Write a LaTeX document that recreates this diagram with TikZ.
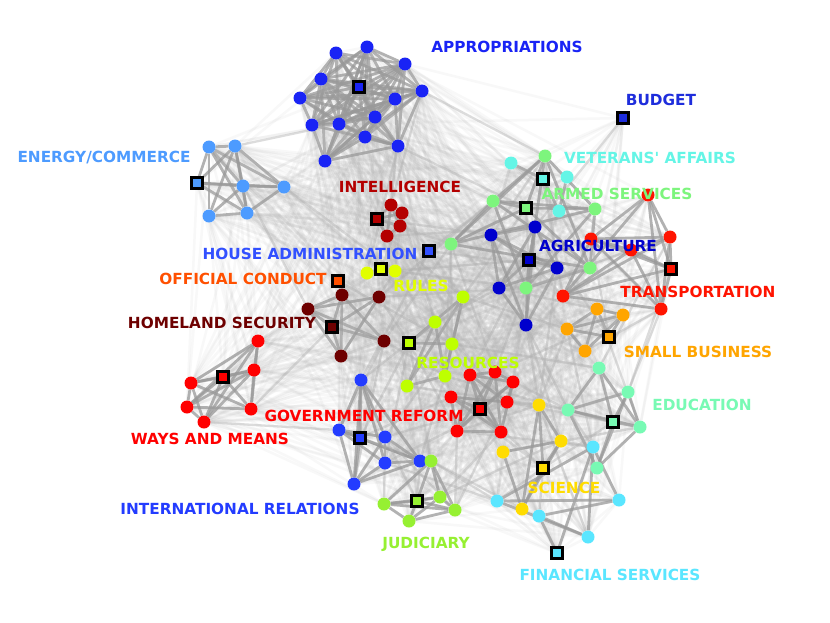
\documentclass[tikz,border=0pt]{standalone}
\usepackage{fontspec}
\newfontfamily\labfont{DejaVu Sans}
\definecolor{cl1}{RGB}{25,35,245}
\definecolor{cl2}{RGB}{30,45,220}
\definecolor{cl3}{RGB}{77,155,255}
\definecolor{cl4}{RGB}{180,0,0}
\definecolor{cl5}{RGB}{50,80,255}
\definecolor{cl6}{RGB}{225,255,0}
\definecolor{cl7}{RGB}{255,80,0}
\definecolor{cl8}{RGB}{110,0,0}
\definecolor{cl9}{RGB}{190,255,0}
\definecolor{cl10}{RGB}{100,245,230}
\definecolor{cl11}{RGB}{125,245,125}
\definecolor{cl12}{RGB}{0,0,205}
\definecolor{cl13}{RGB}{255,20,0}
\definecolor{cl14}{RGB}{255,165,0}
\definecolor{cl15}{RGB}{120,250,180}
\definecolor{cl16}{RGB}{90,230,255}
\definecolor{cl17}{RGB}{255,220,0}
\definecolor{cl18}{RGB}{255,0,0}
\definecolor{cl19}{RGB}{255,0,0}
\definecolor{cl20}{RGB}{35,60,255}
\definecolor{cl21}{RGB}{150,240,50}
\pgfdeclarelayer{bg}
\pgfsetlayers{bg,main}
\def\nodelist{a1/336/53/1/0,a2/367/47/1/0,a3/405/64/1/0,a4/321/79/1/0,aS/359/87/1/1,a5/300/98/1/0,a6/422/91/1/0,a7/395/99/1/0,a8/312/125/1/0,a9/339/124/1/0,a10/375/117/1/0,a11/365/137/1/0,a12/398/146/1/0,a13/325/161/1/0,%
bS/623/118/2/1,%
e1/209/147/3/0,e2/235/146/3/0,eS/197/183/3/1,e3/243/186/3/0,e4/284/187/3/0,e5/209/216/3/0,e6/247/213/3/0,%
i1/391/205/4/0,i2/402/213/4/0,iS/377/219/4/1,i3/400/226/4/0,i4/387/236/4/0,%
hS/429/251/5/1,%
rS/381/269/6/1,r1/367/273/6/0,r2/395/271/6/0,%
oS/338/281/7/1,%
h1/342/295/8/0,h2/379/297/8/0,h3/308/309/8/0,hmS/332/327/8/1,h4/384/341/8/0,h5/341/356/8/0,%
s1/463/297/9/0,s2/435/322/9/0,sS/409/343/9/1,s3/452/344/9/0,s4/445/376/9/0,s5/407/386/9/0,%
v1/511/163/10/0,vS/543/179/10/1,v2/567/177/10/0,v3/559/211/10/0,%
g1/545/156/11/0,gS/526/208/11/1,g2/493/201/11/0,g3/595/209/11/0,g4/451/244/11/0,g5/590/268/11/0,g6/526/288/11/0,%
agS/529/260/12/1,ag1/491/235/12/0,ag2/535/227/12/0,ag3/557/268/12/0,ag4/499/288/12/0,ag5/526/325/12/0,%
t1/648/195/13/0,t2/670/237/13/0,t3/631/250/13/0,t4/591/239/13/0,tS/671/269/13/1,t5/563/296/13/0,t6/661/309/13/0,%
sb1/597/309/14/0,sb2/623/315/14/0,sb3/567/329/14/0,sbS/609/337/14/1,sb4/585/351/14/0,%
ed1/599/368/15/0,ed2/628/392/15/0,ed3/568/410/15/0,edS/613/422/15/1,ed4/640/427/15/0,ed5/597/468/15/0,%
f1/593/447/16/0,f2/619/500/16/0,f3/497/501/16/0,f4/539/516/16/0,f5/588/537/16/0,fS/557/553/16/1,%
sc1/539/405/17/0,sc2/561/441/17/0,sc3/503/452/17/0,scS/543/468/17/1,sc4/522/509/17/0,%
gr1/470/375/18/0,gr2/495/372/18/0,gr3/513/382/18/0,gr4/451/397/18/0,gr5/507/402/18/0,grS/480/409/18/1,gr6/457/431/18/0,gr7/501/432/18/0,%
w1/258/341/19/0,w2/254/370/19/0,wS/223/377/19/1,w3/191/383/19/0,w4/187/407/19/0,w5/251/409/19/0,w6/204/422/19/0,%
n1/361/380/20/0,n2/339/430/20/0,nS/360/438/20/1,n3/385/437/20/0,n4/385/463/20/0,n5/420/461/20/0,n6/354/484/20/0,%
j1/431/461/21/0,jS/417/501/21/1,j2/384/504/21/0,j3/440/497/21/0,j4/455/510/21/0,j5/409/521/21/0}
\begin{document}
\begin{tikzpicture}[x=1pt,y=-1pt,
  dot/.style={circle,inner sep=0pt,minimum size=13pt,fill=#1},
  sqn/.style={rectangle,draw=black,line width=2.7pt,inner sep=0pt,minimum size=10.6pt,fill=#1},
  intra/.style={draw=black!40,line width=2.8pt,opacity=0.75},
  mid/.style={draw=black!30,line width=2.3pt,opacity=0.45},
  haze/.style={draw=black!30,line width=2.5pt,opacity=0.085},
  lab/.style={font=\labfont\bfseries\fontsize{15.3}{16}\selectfont,text=#1,inner sep=0pt}]
\useasboundingbox (0,0) rectangle (830,622);
\pgfmathsetseed{7}
% nodes
\foreach \n/\x/\y/\c/\t in \nodelist {
  \ifnum\t=1 \node[sqn=cl\c] (\n) at (\x,\y) {};\else\node[dot=cl\c] (\n) at (\x,\y) {};\fi
}
% connectors
\begin{pgfonlayer}{bg}
\fill[white] (0,0) rectangle (830,622);
\foreach \na/\xa/\ya/\ca/\ta [count=\i] in \nodelist {
  \foreach \nb/\xb/\yb/\cb/\tb [count=\j] in \nodelist {
    \ifnum\j>\i\relax
      \pgfmathtruncatemacro\kind{(\ca==\cb) ? ((rnd<0.85) ? 3 : 1) : (((veclen(\xa-\xb,\ya-\yb)<150) && (rnd<0.07)) ? 2 : ((rnd<0.2) ? 1 : 0))}
      \ifcase\kind\relax
      \or \draw[haze] (\na) -- (\nb);
      \or \draw[mid] (\na) -- (\nb);
      \or \draw[intra] (\na) -- (\nb);
      \fi
    \fi
  }
}
\end{pgfonlayer}
% labels
\node[lab=cl1] (lAP) at (507,47) {APPROPRIATIONS};
\node[lab=cl2] (lBU) at (661,100) {BUDGET};
\node[lab=cl3] (lEN) at (104,158) {ENERGY/COMMERCE};
\node[lab=cl10] (lVE) at (650,158) {VETERANS' AFFAIRS};
\node[lab=cl4] (lIN) at (400,187) {INTELLIGENCE};
\node[lab=cl11] (lAR) at (617,194) {ARMED SERVICES};
\node[lab=cl5] (lHA) at (310,254) {HOUSE ADMINISTRATION};
\node[lab=cl12] (lAG) at (598,246) {AGRICULTURE};
\node[lab=cl7] (lOC) at (243,279) {OFFICIAL CONDUCT};
\node[lab=cl6] (lRU) at (421,286) {RULES};
\node[lab=cl13] (lTR) at (698,292) {TRANSPORTATION};
\node[lab=cl8] (lHS) at (222,323) {HOMELAND SECURITY};
\node[lab=cl14] (lSB) at (698,352) {SMALL BUSINESS};
\node[lab=cl9] (lRE) at (468,363) {RESOURCES};
\node[lab=cl15] (lED) at (702,405) {EDUCATION};
\node[lab=cl18] (lGR) at (364,416) {GOVERNMENT REFORM};
\node[lab=cl19] (lWM) at (210,439) {WAYS AND MEANS};
\node[lab=cl17] (lSC) at (564,488) {SCIENCE};
\node[lab=cl20] (lIR) at (240,509) {INTERNATIONAL RELATIONS};
\node[lab=cl21] (lJU) at (426,544) {JUDICIARY};
\node[lab=cl16] (lFS) at (610,575) {FINANCIAL SERVICES};
\end{tikzpicture}
\end{document}
